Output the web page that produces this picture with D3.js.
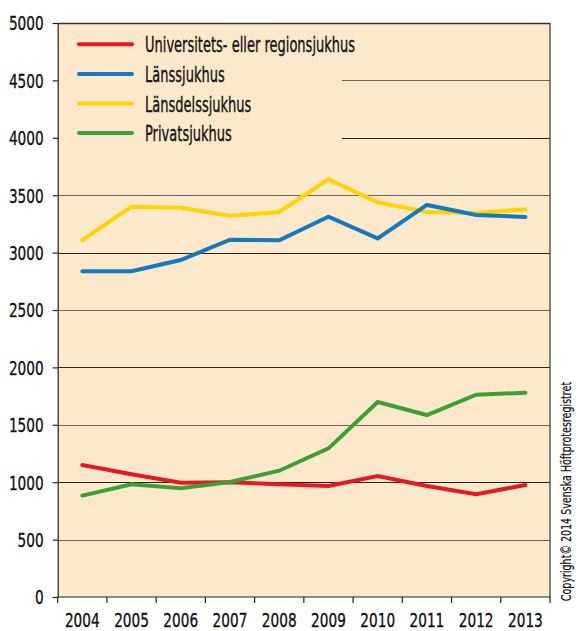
<!DOCTYPE html>
<html><head><meta charset="utf-8">
<script src="https://cdn.jsdelivr.net/npm/d3@7/dist/d3.min.js"></script>
<style>
html,body{margin:0;padding:0;background:#fff;}
svg text{font-family:"DejaVu Sans",sans-serif;fill:#111;stroke:#111;stroke-width:0.35px;}
</style></head>
<body><svg id="c" width="579" height="631"></svg>
<script>
const years = ["2004","2005","2006","2007","2008","2009","2010","2011","2012","2013"];
const seriesNames = ["Universitets- eller regionsjukhus","Länssjukhus","Länsdelssjukhus","Privatsjukhus"];
const seriesColors = ["#e31a22","#1479c1","#ffd400","#3d9f36"];
const univ = [1150,1069,996,999,982,967,1054,967,895,976];
const lans = [2837,2837,2935,3112,3107,3313,3124,3415,3328,3310];
const lansdel = [3110,3400,3391,3321,3354,3638,3438,3354,3345,3377];
const privat = [883,982,947,1002,1100,1295,1699,1585,1762,1780];
const yTicks = [0,500,1000,1500,2000,2500,3000,3500,4000,4500,5000];
const copyright = "Copyright© 2014 Svenska Höftprotesregistret";

const allSeries = [univ,lans,lansdel,privat];
const svg = d3.select("#c");
const L=57.7, R=550, T=23, B=597;
const x = d3.scaleBand().domain(years).range([L,R]);
const y = d3.scaleLinear().domain([0,5000]).range([B,T]);
const SX = 0.72; // horizontal condensing of the axis text

svg.append("rect").attr("x",L).attr("y",T).attr("width",R-L).attr("height",B-T).attr("fill","#fce8cb");

// gridlines
svg.append("g").selectAll("line").data(yTicks.filter(d=>d>0&&d<5000)).join("line")
  .attr("x1",L).attr("x2",R).attr("y1",d=>Math.round(y(d))+0.5).attr("y2",d=>Math.round(y(d))+0.5)
  .attr("stroke",d=>(d%1000===0)?"#2a2420":"#6e6254").attr("stroke-width",1);

// legend background (hides gridlines)
svg.append("rect").attr("x",L+1).attr("y",T+1).attr("width",342-L-1).attr("height",145-T)
  .attr("fill","#fce8cb");

// frame
svg.append("line").attr("x1",L).attr("x2",R).attr("y1",T+0.5).attr("y2",T+0.5).attr("stroke","#333").attr("stroke-width",1.5);
svg.append("line").attr("x1",R).attr("x2",R).attr("y1",T).attr("y2",B).attr("stroke","#333").attr("stroke-width",1.2);

// axes
const yAxis = d3.axisLeft(y).tickValues(yTicks).tickFormat(d3.format("d")).tickSize(5);
const gy = svg.append("g").attr("transform",`translate(${L},0)`).call(yAxis);
gy.select(".domain").attr("stroke","#222").attr("stroke-width",1.2);
gy.selectAll(".tick line").attr("stroke","#222").attr("stroke-width",1.2);
gy.selectAll("text").attr("font-size","19px").attr("fill","#111").attr("font-family","DejaVu Sans, sans-serif")
  .attr("x",-14/SX).attr("dy","0.36em").attr("transform",`scale(${SX},1)`);

const xAxis = d3.axisBottom(x).tickSize(0);
const gx = svg.append("g").attr("transform",`translate(0,${B})`).call(xAxis);
gx.select(".domain").remove();
gx.selectAll("text").attr("font-size","19px").attr("fill","#111").attr("font-family","DejaVu Sans, sans-serif")
  .attr("y",30.5).attr("dy",0).attr("transform",`scale(${SX},1)`);
svg.append("line").attr("x1",L).attr("x2",R).attr("y1",B).attr("y2",B).attr("stroke","#222").attr("stroke-width",1.2);
const edges = years.map(d=>x(d)).concat([R]);
svg.append("g").selectAll("line").data(edges).join("line")
  .attr("x1",d=>d).attr("x2",d=>d).attr("y1",B).attr("y2",B+6).attr("stroke","#222").attr("stroke-width",1.2);

// lines
const line = d3.line().x((d,i)=>x(years[i])+x.bandwidth()/2).y(d=>y(d));
const drawOrder = [2,1,0,3];
drawOrder.forEach(k=>{
  svg.append("path").attr("d",line(allSeries[k])).attr("fill","none")
    .attr("stroke",seriesColors[k]).attr("stroke-width",4).attr("stroke-linejoin","miter").attr("stroke-linecap","round");
});

// legend
const lg = svg.append("g");
seriesNames.forEach((n,i)=>{
  const yy = 44.3 + i*29.6;
  lg.append("line").attr("x1",79).attr("x2",132).attr("y1",yy).attr("y2",yy)
    .attr("stroke",seriesColors[i]).attr("stroke-width",4).attr("stroke-linecap","round");
  lg.append("text").attr("transform",`translate(145,${yy+8}) scale(0.62,1)`).attr("font-size","21px").text(n);
});

// copyright
svg.append("text").attr("transform","translate(571,491.5) rotate(-90) scale(0.68,1)").attr("text-anchor","middle")
  .attr("font-size","14px").style("stroke-width","0.2px").text(copyright);
</script></body></html>
